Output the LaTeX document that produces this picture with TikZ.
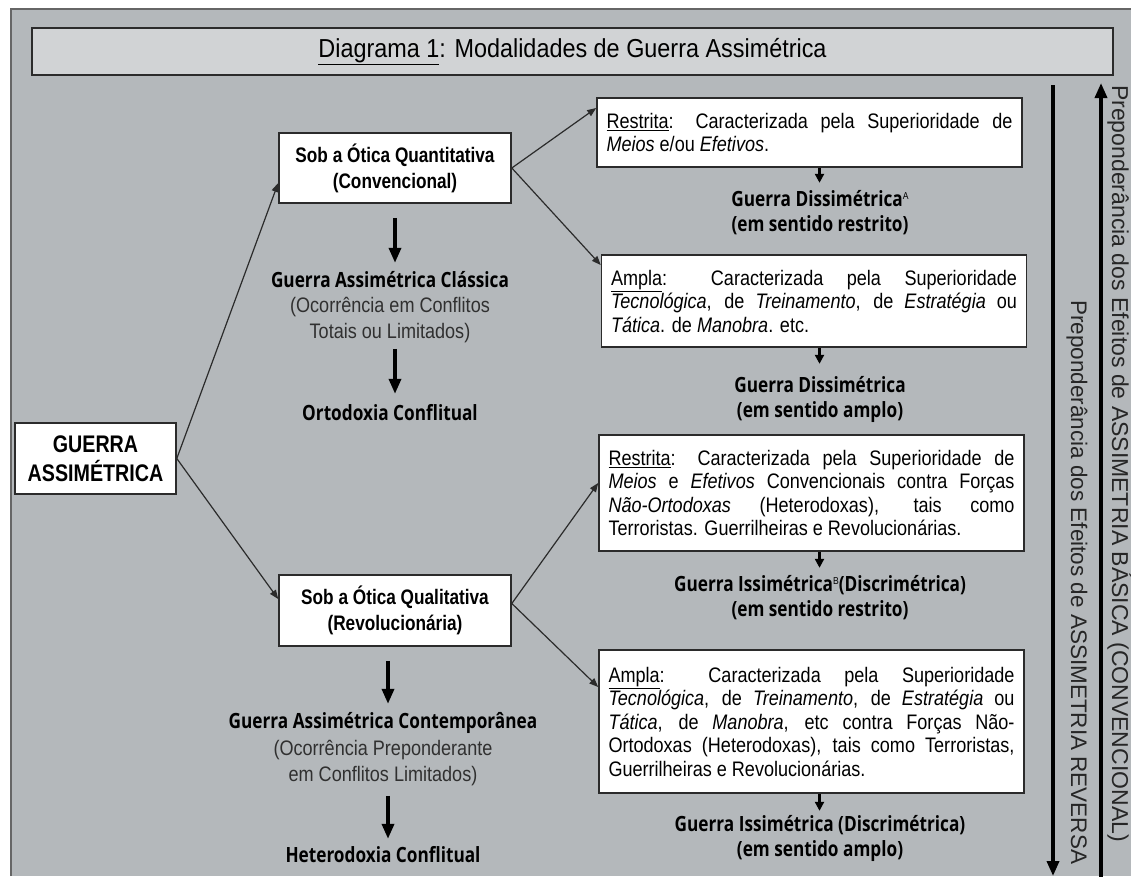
\documentclass[tikz,border=0pt]{standalone}
\usepackage{fontspec}
\setmainfont{Liberation Sans}
\newfontfamily\bodyfont[FakeStretch=0.86]{Liberation Sans}
\newfontfamily\titlefont[FakeStretch=0.9]{Liberation Sans}
\newfontfamily\boxfam[FakeStretch=0.82]{Liberation Sans}
\newfontfamily\lblfam[FakeStretch=0.82]{Open Sans}
\newfontfamily\sidefont{Liberation Sans}
\usetikzlibrary{arrows.meta,calc}
\definecolor{bggray}{HTML}{B4B8BB}
\definecolor{titlefill}{HTML}{D1D3D5}
\definecolor{edge}{HTML}{2B2B2B}
\definecolor{subtext}{HTML}{303030}
\newcommand{\supmark}[1]{\raisebox{7pt}{\bodyfont\mdseries\fontsize{10}{10}\selectfont #1}}
\tikzset{
  wbox/.style={draw=edge, line width=1.6pt, fill=white, inner sep=0pt, align=center},
  descbox/.style={draw=edge, line width=1.6pt, fill=white, text width=406pt,
    inner xsep=9.5pt, inner ysep=0pt, align=justify,
    font=\bodyfont\fontsize{21}{23.5}\selectfont},
  lbl/.style={inner sep=0pt, align=center, font=\lblfam\bfseries\fontsize{21}{25}\selectfont, text=black},
  subl/.style={inner sep=0pt, align=center, font=\bodyfont\fontsize{21}{26}\selectfont, text=subtext},
  boxtxt/.style={font=\boxfam\bfseries\fontsize{21}{26}\selectfont},
  thinarrow/.style={draw=edge, line width=1.2pt, -{Triangle[width=7pt,length=9pt]}},
  bigarrow/.style={line width=3.5pt, -{Triangle[width=12pt,length=15pt]}},
  smallarrow/.style={line width=2.2pt, -{Triangle[width=9pt,length=9pt]}},
  sidetxt/.style={rotate=-90, anchor=base west, inner sep=0pt, font=\sidefont\fontsize{23}{23}\selectfont, text=black!85}
}
\begin{document}
\hyphenpenalty=10000
\tolerance=10000
\begin{tikzpicture}[x=1pt,y=-1pt]
\useasboundingbox (0,0) rectangle (1131,876);
\fill[white] (0,0) rectangle (1131,876);
\fill[bggray] (10,8) rectangle (1131,876);
\draw[black!60, line width=2pt] (11,876) -- (11,9) -- (1131,9);

% title
\node[wbox, fill=titlefill, minimum width=1081pt, minimum height=47pt,
  font=\titlefont\fontsize{26}{30}\selectfont] (title) at (572.5,51.5)
  {\underline{Diagrama 1}: Modalidades de Guerra Assimétrica};

% left column
\node[wbox, minimum width=161pt, minimum height=71pt,
  font=\boxfam\bfseries\fontsize{24}{29}\selectfont] (ga) at (95.5,458.5) {GUERRA\\ASSIMÉTRICA};
\node[wbox, boxtxt, minimum width=232pt, minimum height=70pt] (quant) at (395,168)
  {Sob a Ótica Quantitativa\\(Convencional)};
\node[wbox, boxtxt, minimum width=232pt, minimum height=71pt] (qual) at (395,610.5)
  {Sob a Ótica Qualitativa\\(Revolucionária)};

\node[lbl] (clasA) at (390,280) {Guerra Assimétrica Clássica};
\node[subl] (clasB) at (390,320) {(Ocorrência em Conflitos\\Totais ou Limitados)};
\node[lbl] (orto) at (390,413) {Ortodoxia Conflitual};
\node[lbl] (contA) at (383,723) {Guerra Assimétrica Contemporânea};
\node[subl] (contB) at (383,763.5) {(Ocorrência Preponderante\\em Conflitos Limitados)};
\node[lbl] (hetero) at (383,855) {Heterodoxia Conflitual};

\draw[bigarrow] (quant.south) ++(0,14) -- ++(0,45);
\draw[bigarrow] (quant.south) ++(0,145) -- ++(0,45);
\draw[bigarrow] (qual.south) ++(-7,14) -- ++(0,43);
\draw[bigarrow] (qual.south) ++(-7,149) -- ++(0,43);

% right column
\node[descbox, minimum height=69pt] (r1) at (809.5,132.5)
  {\underline{Restrita}: Caracterizada pela Superioridade de\linebreak
   \textit{Meios} e/ou \textit{Efetivos}.};
\node[descbox, minimum height=92pt] (r2) at (814,301)
  {\underline{Ampla}: Caracterizada pela Superioridade\linebreak
   \textit{Tecnológica}, de \textit{Treinamento}, de \textit{Estratégia} ou\linebreak
   \textit{Tática}. de \textit{Manobra}. etc.};
\node[descbox, minimum height=116pt] (r3) at (811.5,493)
  {\underline{Restrita}: Caracterizada pela Superioridade de\linebreak
   \textit{Meios} e \textit{Efetivos} Convencionais contra Forças\linebreak
   \textit{Não-Ortodoxas} (Heterodoxas), tais como\linebreak
   Terroristas. Guerrilheiras e Revolucionárias.};
\node[descbox, minimum height=143pt] (r4) at (811.5,721.5)
  {\underline{Ampla}: Caracterizada pela Superioridade\linebreak
   \textit{Tecnológica}, de \textit{Treinamento}, de \textit{Estratégia} ou\linebreak
   \textit{Tática}, de \textit{Manobra}, etc contra Forças Não-\linebreak
   Ortodoxas (Heterodoxas), tais como Terroristas,\linebreak
   Guerrilheiras e Revolucionárias.};

\node[lbl] (la) at (820,212.5) {Guerra Dissimétrica\supmark{A}\\(em sentido restrito)};
\node[lbl] (lb) at (820,399.5) {Guerra Dissimétrica\\(em sentido amplo)};
\node[lbl] (lc) at (820,597.5) {Guerra Issimétrica\supmark{B}(Discrimétrica)\\(em sentido restrito)};
\node[lbl] (ld) at (820,838.5) {Guerra Issimétrica (Discrimétrica)\\(em sentido amplo)};

\draw[smallarrow] ([xshift=10pt]r1.south) -- ++(0,15);
\draw[smallarrow] ([xshift=5.5pt]r2.south) -- ++(0,16);
\draw[smallarrow] ([xshift=8pt]r3.south) -- ++(0,16);
\draw[smallarrow] ([xshift=8pt]r4.south) -- ++(0,17);

% thin connectors
\draw[thinarrow] (ga.east) -- ([yshift=-15pt]quant.west);
\draw[thinarrow] (ga.east) -- ([yshift=11.5pt]qual.west);
\draw[thinarrow] (quant.east) -- ([yshift=24.5pt]r1.west);
\draw[thinarrow] (quant.east) -- ([yshift=36pt]r2.west);
\draw[thinarrow] ([yshift=7pt]qual.east) -- ([yshift=10pt]r3.west);
\draw[thinarrow] ([yshift=7pt]qual.east) -- ([yshift=34.5pt]r4.west);

% right side long arrows
\coordinate (dtop) at (1053,85);
\coordinate (dbot) at (1053,876);
\coordinate (ubot) at (1101,880);
\coordinate (utop) at (1101,83);
\draw[bigarrow] (dtop) -- (dbot);
\draw[bigarrow] (ubot) -- (utop);
\node[sidetxt] (sideA) at (1112,85) {Preponderância dos Efeitos de ASSIMETRIA BÁSICA (CONVENCIONAL)};
\node[sidetxt, font=\sidefont\fontsize{22.5}{23}\selectfont] (sideB) at (1071,300) {Preponderância dos Efeitos de ASSIMETRIA REVERSA};
\end{tikzpicture}
\end{document}
